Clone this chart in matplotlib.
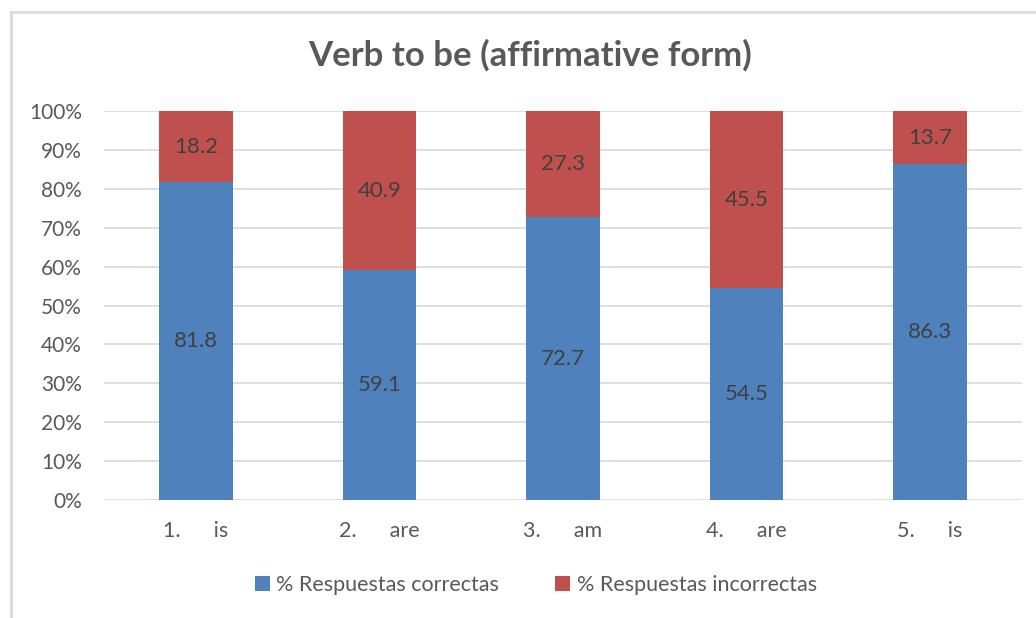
import numpy as np
import matplotlib.pyplot as plt
from matplotlib.lines import Line2D

categories = ['1.      is', '2.      are', '3.      am', '4.      are', '5.      is']
correctas = [81.8, 59.1, 72.7, 54.5, 86.3]
incorrectas = [18.2, 40.9, 27.3, 45.5, 13.7]
yticks = [0, 10, 20, 30, 40, 50, 60, 70, 80, 90, 100]

plt.rcParams['font.family'] = ['Lato', 'DejaVu Sans']

fig = plt.figure(figsize=(10.36, 6.18), dpi=100)
ax = fig.add_axes([0.1004, 0.191, 0.886, 0.629])

x = np.arange(len(categories))
blue = '#4F81BD'
red = '#C0504D'
w = 0.40
b1 = ax.bar(x, correctas, w, color=blue, label='% Respuestas correctas', zorder=3)
b2 = ax.bar(x, incorrectas, w, bottom=correctas, color=red, label='% Respuestas incorrectas', zorder=3)

for i in range(len(x)):
    ax.text(x[i], correctas[i] / 2, f'{correctas[i]:.1f}', ha='center', va='center',
            fontsize=16, color='#404040', zorder=4)
    ax.text(x[i], correctas[i] + incorrectas[i] / 2, f'{incorrectas[i]:.1f}', ha='center',
            va='center', fontsize=16, color='#404040', zorder=4)

ax.set_xlim(-0.5, len(x) - 0.5)
ax.set_ylim(0, 100)
ax.set_yticks(yticks)
ax.set_yticklabels([f'{t}%' for t in yticks])
ax.set_xticks(x)
ax.set_xticklabels(categories)
ax.tick_params(axis='both', length=0, labelsize=15, colors='#595959')
ax.tick_params(axis='x', labelsize=15.5, pad=15)
ax.tick_params(axis='y', pad=16)
ax.grid(axis='y', color='#D9D9D9', linewidth=1.2, zorder=0)
for s in ax.spines.values():
    s.set_visible(False)

fig.text(0.512, 0.91, 'Verb to be (affirmative form)', ha='center', va='center',
         fontsize=25, fontweight='bold', color='#595959')

fig.legend(handles=[b1, b2], loc='center', bbox_to_anchor=(0.517, 0.053), ncol=2,
           frameon=False, fontsize=15.5, labelcolor='#595959', handlelength=0.7,
           handleheight=0.7, handletextpad=0.3, columnspacing=2.6)

# light gray chart border (top and left edges visible)
fig.add_artist(Line2D([11 / 1036, 11 / 1036], [0, 1 - 12 / 618], color='#D9D9D9', lw=2))
fig.add_artist(Line2D([11 / 1036, 1], [1 - 12 / 618, 1 - 12 / 618], color='#D9D9D9', lw=2))

fig.savefig('out.png', dpi=100)
